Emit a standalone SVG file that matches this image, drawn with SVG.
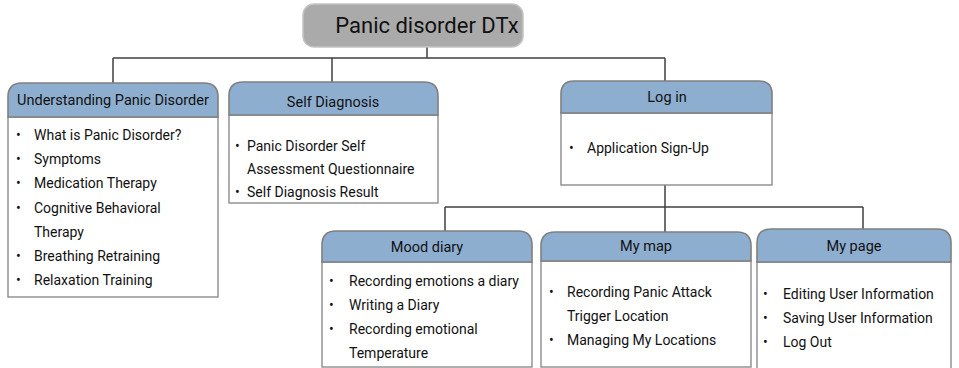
<svg xmlns="http://www.w3.org/2000/svg" width="959" height="368" viewBox="0 0 959 368">
<style>
.hdr{fill:#8eaed0;stroke:#7f7f7f;stroke-width:1.6}
.body{fill:#ffffff;stroke:#8c8c8c;stroke-width:1.4}
.ht{font-family:Roboto,"Liberation Sans",sans-serif;font-size:14.5px;fill:#111;text-anchor:middle}
.bt{font-family:Roboto,"Liberation Sans",sans-serif;font-size:14px;fill:#111}
.conn{fill:none;stroke:#404040;stroke-width:1.5}
</style>
<rect width="959" height="368" fill="#ffffff"/>
<g id="connectors">
<path class="conn" d="M427 47V58M113 58H665M113 58V83M332 58V82M665 58V81"/>
<path class="conn" d="M665 185V232M445 207H863M445 207V231M863 207V229"/>
</g>
<g id="title">
<rect x="303" y="4" width="220" height="43" rx="11" fill="#aaaaaa" stroke="#c4c4c4" stroke-width="1.5"/>
<text x="427" y="33" font-family="Roboto,'Liberation Sans',sans-serif" font-size="22" fill="#111" text-anchor="middle">Panic disorder DTx</text>
</g>
<g id="understanding">
<rect class="body" x="8" y="117" width="210" height="180"/>
<path class="hdr" d="M8 117V97Q8 83 22 83H204Q218 83 218 97V117Z"/>
<text class="ht" x="113" y="105">Understanding Panic Disorder</text>
<g class="bt">
<text x="16" y="140">•</text><text x="34" y="140">What is Panic Disorder?</text>
<text x="16" y="164">•</text><text x="34" y="164">Symptoms</text>
<text x="16" y="188">•</text><text x="34" y="188">Medication Therapy</text>
<text x="16" y="213">•</text><text x="34" y="213">Cognitive Behavioral</text>
<text x="34" y="237">Therapy</text>
<text x="16" y="261">•</text><text x="34" y="261">Breathing Retraining</text>
<text x="16" y="285">•</text><text x="34" y="285">Relaxation Training</text>
</g>
</g>
<g id="selfdiagnosis">
<rect class="body" x="229" y="115" width="209" height="88"/>
<path class="hdr" d="M229 115V96Q229 82 243 82H424Q438 82 438 96V115Z"/>
<text class="ht" x="333" y="107">Self Diagnosis</text>
<g class="bt">
<text x="235" y="151">•</text><text x="247" y="151">Panic Disorder Self</text>
<text x="247" y="174">Assessment Questionnaire</text>
<text x="235" y="197">•</text><text x="247" y="197">Self Diagnosis Result</text>
</g>
</g>
<g id="login">
<rect class="body" x="561" y="113" width="211" height="72"/>
<path class="hdr" d="M561 113V94Q561 81 574 81H759Q772 81 772 94V113Z"/>
<text class="ht" x="667" y="102">Log in</text>
<g class="bt">
<text x="569" y="153">•</text><text x="587" y="153">Application Sign-Up</text>
</g>
</g>
<g id="mooddiary">
<rect class="body" x="322" y="262" width="210" height="105"/>
<path class="hdr" d="M322 262V245Q322 231 336 231H518Q532 231 532 245V262Z"/>
<text class="ht" x="427" y="252">Mood diary</text>
<g class="bt">
<text x="329" y="286">•</text><text x="349" y="286">Recording emotions a diary</text>
<text x="329" y="310">•</text><text x="349" y="310">Writing a Diary</text>
<text x="329" y="334">•</text><text x="349" y="334">Recording emotional</text>
<text x="349" y="358">Temperature</text>
</g>
</g>
<g id="mymap">
<rect class="body" x="541" y="261" width="210" height="106"/>
<path class="hdr" d="M541 261V246Q541 232 555 232H737Q751 232 751 246V261Z"/>
<text class="ht" x="646" y="251">My map</text>
<g class="bt">
<text x="549" y="297">•</text><text x="567" y="297">Recording Panic Attack</text>
<text x="567" y="321">Trigger Location</text>
<text x="549" y="345">•</text><text x="567" y="345">Managing My Locations</text>
</g>
</g>
<g id="mypage">
<rect class="body" x="757" y="262" width="194" height="110"/>
<path class="hdr" d="M757 262V243Q757 229 771 229H937Q951 229 951 243V262Z"/>
<text class="ht" x="854" y="251">My page</text>
<g class="bt">
<text x="763" y="299">•</text><text x="783" y="299">Editing User Information</text>
<text x="763" y="323">•</text><text x="783" y="323">Saving User Information</text>
<text x="763" y="347">•</text><text x="783" y="347">Log Out</text>
</g>
</g>
</svg>
